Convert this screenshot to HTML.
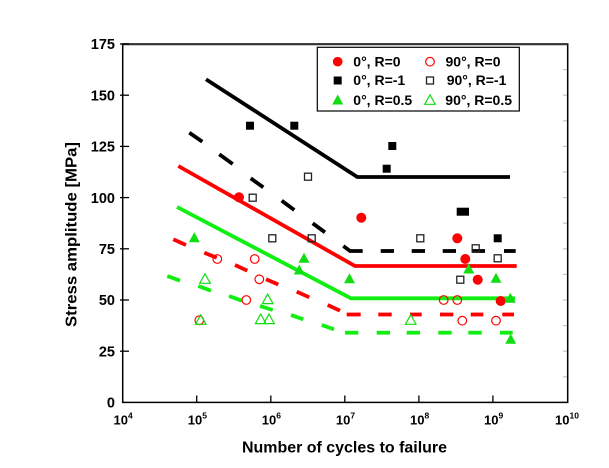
<!DOCTYPE html>
<html>
<head>
<meta charset="utf-8">
<style>
html,body{margin:0;padding:0;background:#fff;}
svg{display:block;}
text{font-family:"Liberation Sans",Arial,sans-serif;font-weight:bold;fill:#000;}
</style>
</head>
<body>
<svg width="609" height="468" viewBox="0 0 609 468" xmlns="http://www.w3.org/2000/svg">
<rect x="0" y="0" width="609" height="468" fill="#fff"/>

<!-- faint right/top minor ticks -->
<g stroke="#bbb" stroke-width="1">
<line x1="563" y1="69.6" x2="567" y2="69.6"/><line x1="563" y1="95.2" x2="567" y2="95.2"/>
<line x1="563" y1="120.8" x2="567" y2="120.8"/><line x1="563" y1="146.4" x2="567" y2="146.4"/>
<line x1="563" y1="172" x2="567" y2="172"/><line x1="563" y1="197.6" x2="567" y2="197.6"/>
<line x1="563" y1="223.2" x2="567" y2="223.2"/><line x1="563" y1="248.8" x2="567" y2="248.8"/>
<line x1="563" y1="274.4" x2="567" y2="274.4"/><line x1="563" y1="300" x2="567" y2="300"/>
<line x1="563" y1="325.6" x2="567" y2="325.6"/><line x1="563" y1="351.2" x2="567" y2="351.2"/>
<line x1="563" y1="376.8" x2="567" y2="376.8"/>
</g>

<!-- frame -->
<rect x="122.7" y="44" width="445" height="358.4" fill="none" stroke="#000" stroke-width="1.5"/>
<line x1="122.7" y1="44.3" x2="567.7" y2="44.3" stroke="#333" stroke-width="2"/>

<!-- y ticks -->
<g stroke="#000" stroke-width="1.3">
<line x1="120" y1="44" x2="129" y2="44"/>
<line x1="120" y1="95.2" x2="129" y2="95.2"/>
<line x1="120" y1="146.4" x2="129" y2="146.4"/>
<line x1="120" y1="197.6" x2="129" y2="197.6"/>
<line x1="120" y1="248.8" x2="129" y2="248.8"/>
<line x1="120" y1="300" x2="129" y2="300"/>
<line x1="120" y1="351.2" x2="129" y2="351.2"/>
</g>
<!-- x ticks -->
<g stroke="#000" stroke-width="1.3">
<line x1="196.7" y1="402.4" x2="196.7" y2="395.5"/>
<line x1="270.8" y1="402.4" x2="270.8" y2="395.5"/>
<line x1="344.8" y1="402.4" x2="344.8" y2="395.5"/>
<line x1="418.9" y1="402.4" x2="418.9" y2="395.5"/>
<line x1="492.9" y1="402.4" x2="492.9" y2="395.5"/>
</g>

<!-- y tick labels -->
<g font-size="14.5" text-anchor="end">
<text x="115" y="49.2">175</text>
<text x="115" y="100.4">150</text>
<text x="115" y="151.6">125</text>
<text x="115" y="202.8">100</text>
<text x="115" y="254">75</text>
<text x="115" y="305.2">50</text>
<text x="115" y="356.4">25</text>
<text x="115" y="407.6">0</text>
</g>

<!-- x tick labels -->
<g font-size="13">
<text x="113.5" y="424.5">10<tspan font-size="8.5" dy="-6">4</tspan></text>
<text x="187.8" y="424.5">10<tspan font-size="8.5" dy="-6">5</tspan></text>
<text x="261.8" y="424.5">10<tspan font-size="8.5" dy="-6">6</tspan></text>
<text x="335.9" y="424.5">10<tspan font-size="8.5" dy="-6">7</tspan></text>
<text x="410" y="424.5">10<tspan font-size="8.5" dy="-6">8</tspan></text>
<text x="484" y="424.5">10<tspan font-size="8.5" dy="-6">9</tspan></text>
<text x="555" y="424.5">10<tspan font-size="8.5" dy="-6">10</tspan></text>
</g>

<!-- axis titles -->
<text x="344.5" y="452.5" font-size="16" text-anchor="middle" textLength="205" lengthAdjust="spacingAndGlyphs">Number of cycles to failure</text>
<text transform="translate(76.5,234.5) rotate(-90)" x="0" y="0" font-size="16" text-anchor="middle" textLength="185" lengthAdjust="spacingAndGlyphs">Stress amplitude [MPa]</text>

<!-- solid lines -->
<polyline points="206,79.3 357.3,177 510,177" fill="none" stroke="#000" stroke-width="3.8"/>
<polyline points="178.3,166 355,266 516.7,266" fill="none" stroke="#ff0000" stroke-width="3.8"/>
<polyline points="177,207 351,298.3 515,298.3" fill="none" stroke="#11ee11" stroke-width="3.8"/>

<!-- black dashed -->
<g stroke="#000" stroke-width="3.8" fill="none">
<line x1="189.3" y1="132.7" x2="202.3" y2="141.7"/>
<line x1="219.3" y1="154.3" x2="232.7" y2="164"/>
<line x1="250.7" y1="178.3" x2="263.3" y2="187.3"/>
<line x1="281.7" y1="200.7" x2="294.3" y2="210"/>
<line x1="312.7" y1="223.3" x2="325" y2="232.3"/>
<polyline points="343.3,246 350,251 362.7,251"/>
<line x1="380.7" y1="251" x2="394" y2="251"/>
<line x1="411.7" y1="251" x2="425" y2="251"/>
<line x1="442.7" y1="251" x2="456" y2="251"/>
<line x1="471.7" y1="251" x2="485" y2="251"/>
<line x1="504" y1="251" x2="515.7" y2="251"/>
</g>

<!-- red dashed -->
<g stroke="#ff0000" stroke-width="3.8" fill="none">
<line x1="173.3" y1="239.3" x2="186" y2="245"/>
<line x1="204.3" y1="252.7" x2="216.7" y2="257.7"/>
<line x1="235" y1="265" x2="247.3" y2="270.7"/>
<line x1="266" y1="279.3" x2="278.3" y2="284.5"/>
<line x1="296.7" y1="291.7" x2="309.3" y2="297.3"/>
<line x1="327.7" y1="305" x2="340" y2="310.7"/>
<line x1="346.7" y1="314.5" x2="360.7" y2="314.5"/>
<line x1="378.3" y1="314.5" x2="391.7" y2="314.5"/>
<line x1="410" y1="314.5" x2="421.7" y2="314.5"/>
<line x1="440" y1="314.5" x2="453.3" y2="314.5"/>
<line x1="470.7" y1="314.5" x2="483.3" y2="314.5"/>
<line x1="502.3" y1="314.5" x2="514" y2="314.5"/>
</g>

<!-- green dashed -->
<g stroke="#11ee11" stroke-width="3.8" fill="none">
<line x1="167.3" y1="276" x2="180" y2="280.7"/>
<line x1="198.3" y1="286" x2="211" y2="290.7"/>
<line x1="229" y1="296" x2="241.7" y2="300.7"/>
<line x1="260" y1="306" x2="272.7" y2="310"/>
<line x1="291" y1="315" x2="303.3" y2="319.3"/>
<line x1="321.7" y1="325" x2="334" y2="329.3"/>
<line x1="345" y1="332.7" x2="358.3" y2="332.7"/>
<line x1="376.7" y1="332.7" x2="390" y2="332.7"/>
<line x1="406.7" y1="332.7" x2="420" y2="332.7"/>
<line x1="438.3" y1="332.7" x2="451.7" y2="332.7"/>
<line x1="468.3" y1="332.7" x2="481.7" y2="332.7"/>
<line x1="500" y1="332.7" x2="512.7" y2="332.7"/>
</g>

<!-- filled black squares -->
<g fill="#000">
<rect x="246" y="121.7" width="8" height="8"/>
<rect x="290.3" y="121.7" width="8" height="8"/>
<rect x="388.3" y="142" width="8" height="8"/>
<rect x="382.7" y="164.7" width="8" height="8"/>
<rect x="456.7" y="207.7" width="12.3" height="8"/>
<rect x="493.7" y="234.3" width="8" height="8"/>
</g>

<!-- open squares -->
<g fill="none" stroke="#222" stroke-width="1.3">
<rect x="304.5" y="173.2" width="7" height="7"/>
<rect x="249.2" y="194.2" width="7" height="7"/>
<rect x="268.8" y="234.8" width="7" height="7"/>
<rect x="308.2" y="234.8" width="7" height="7"/>
<rect x="416.8" y="234.8" width="7" height="7"/>
<rect x="472.2" y="244.8" width="7" height="7"/>
<rect x="494.2" y="254.8" width="7" height="7"/>
<rect x="456.8" y="276.2" width="7" height="7"/>
</g>

<!-- filled red circles -->
<g fill="#ff0000">
<circle cx="239" cy="197.3" r="5"/>
<circle cx="361.3" cy="217.7" r="5"/>
<circle cx="457.3" cy="238.3" r="5"/>
<circle cx="465.3" cy="259" r="5"/>
<circle cx="477.7" cy="279.7" r="5"/>
<circle cx="500.7" cy="301" r="5"/>
</g>

<!-- open red circles -->
<g fill="none" stroke="#ff0000" stroke-width="1.2">
<circle cx="217.3" cy="259" r="4.3"/>
<circle cx="254.7" cy="259" r="4.3"/>
<circle cx="259.3" cy="279.3" r="4.3"/>
<circle cx="246.3" cy="300" r="4.3"/>
<circle cx="199.3" cy="320.3" r="4.3"/>
<circle cx="443.7" cy="300" r="4.3"/>
<circle cx="457.3" cy="300" r="4.3"/>
<circle cx="462.3" cy="320.7" r="4.3"/>
<circle cx="496" cy="320.7" r="4.3"/>
</g>

<!-- filled green triangles -->
<g fill="#11dd11">
<polygon points="194.3,232.2 188.8,242.2 199.8,242.2"/>
<polygon points="304,252.8 298.5,262.8 309.5,262.8"/>
<polygon points="299.3,264.5 293.8,274.5 304.8,274.5"/>
<polygon points="349.5,273.3 344,283.3 355,283.3"/>
<polygon points="468.7,263.5 463.2,273.5 474.2,273.5"/>
<polygon points="496,272.8 490.5,282.8 501.5,282.8"/>
<polygon points="510.3,292.8 504.8,302.8 515.8,302.8"/>
<polygon points="510.7,333.8 505.2,343.8 516.2,343.8"/>
</g>

<!-- open green triangles -->
<g fill="none" stroke="#11dd11" stroke-width="1.2">
<polygon points="205,273.8 199.7,283.3 210.3,283.3"/>
<polygon points="267.7,294.1 262.4,303.6 273,303.6"/>
<polygon points="200.7,314.8 195.4,324.3 206,324.3"/>
<polygon points="260.7,314.1 255.4,323.6 266,323.6"/>
<polygon points="269,314.1 263.7,323.6 274.3,323.6"/>
<polygon points="410.7,314.8 405.4,324.3 416,324.3"/>
</g>

<!-- legend -->
<rect x="317.3" y="47.3" width="202" height="63.7" fill="#fff" stroke="#000" stroke-width="1.2"/>
<circle cx="337.7" cy="61.7" r="4.8" fill="#ff0000"/>
<circle cx="430" cy="61.7" r="4.3" fill="none" stroke="#ff0000" stroke-width="1.2"/>
<rect x="333.7" y="76.5" width="8" height="8" fill="#000"/>
<rect x="426.5" y="77" width="7" height="7" fill="none" stroke="#222" stroke-width="1.3"/>
<polygon points="337.7,94.5 332.2,104.5 343.2,104.5" fill="#11dd11"/>
<polygon points="430,94.8 424.7,104.3 435.3,104.3" fill="none" stroke="#11dd11" stroke-width="1.2"/>
<g font-size="14">
<text x="353.3" y="66.3">0°, R=0</text>
<text x="445.5" y="66.3">90°, R=0</text>
<text x="353.3" y="85">0°, R=-1</text>
<text x="446.7" y="85">90°, R=-1</text>
<text x="353.3" y="104.8">0°, R=0.5</text>
<text x="445.3" y="104.8">90°, R=0.5</text>
</g>
</svg>
</body>
</html>
